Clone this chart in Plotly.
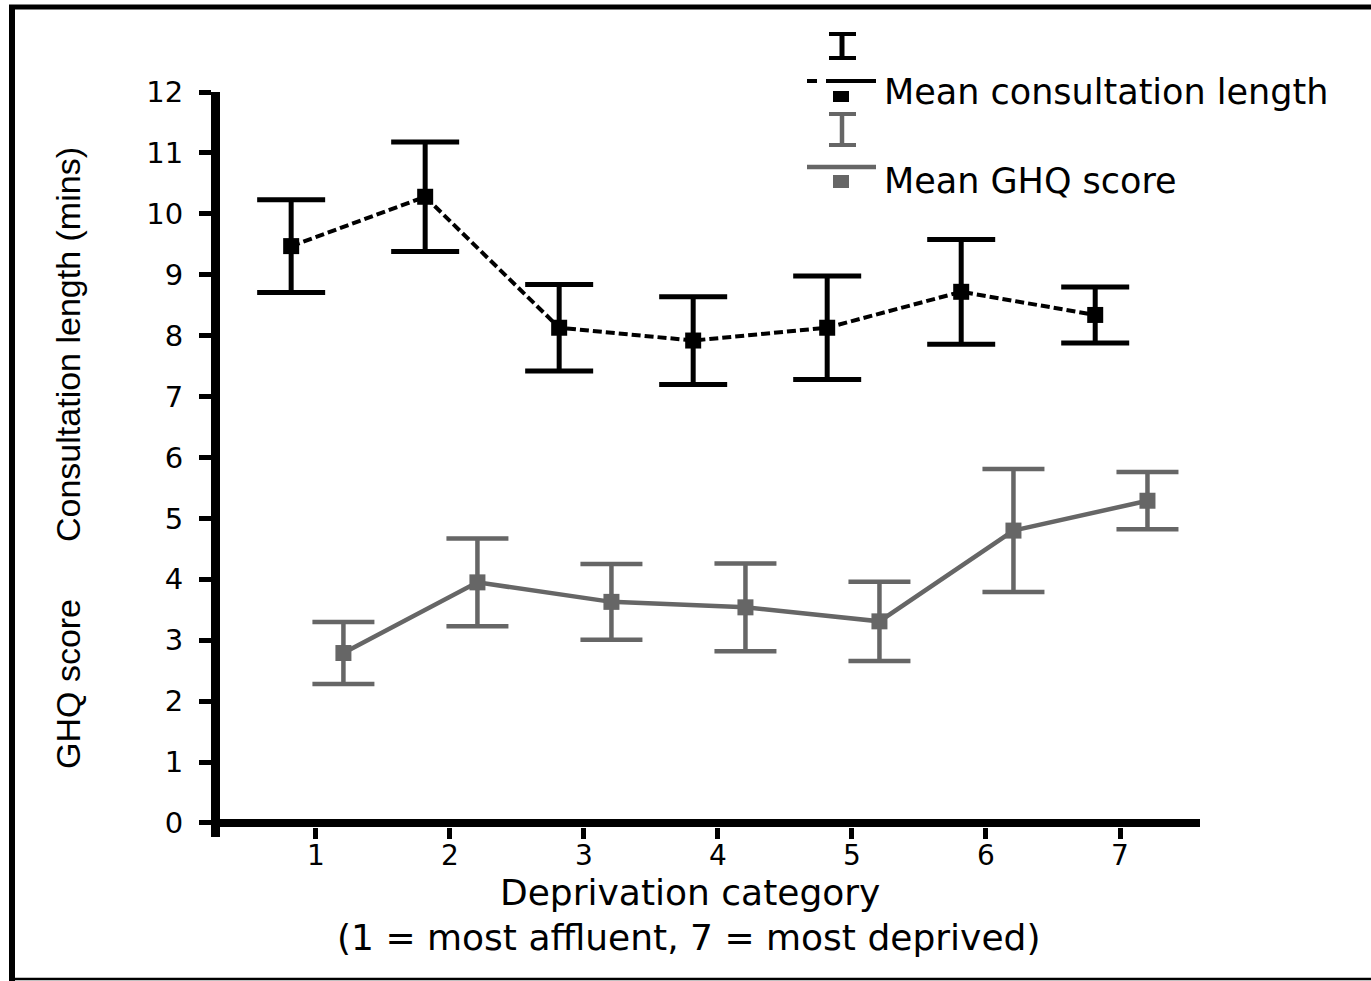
import plotly.graph_objects as go

# Deprivation categories (1 = most affluent, 7 = most deprived)
categories = [1, 2, 3, 4, 5, 6, 7]
tick_labels = ["1", "2", "3", "4", "5", "6", "7"]

# Mean consultation length (mins) with error bar half-widths
consult_mean = [9.47, 10.28, 8.13, 7.92, 8.13, 8.72, 8.34]
consult_err = [0.76, 0.90, 0.71, 0.72, 0.85, 0.86, 0.46]

# Mean GHQ score with error bar half-widths
ghq_mean = [2.79, 3.95, 3.63, 3.54, 3.31, 4.80, 5.29]
ghq_err = [0.51, 0.72, 0.62, 0.72, 0.65, 1.01, 0.47]

y_ticks = list(range(0, 13))

GREY = "#666666"
BLACK = "#000000"
TEXT_FONT = "DejaVu Sans"
TITLE_FONT = "Liberation Sans"

# plot-area geometry (pixels)
W, H = 1371, 981
L, R, T, B = 220, 1200, 92, 827

# the two series are dodged either side of each category
consult_x = [c - 0.185 for c in categories]
ghq_x = [c + 0.205 for c in categories]


def px(x):
    return (x - L) / (R - L)


def py(y):
    return (B - y) / (B - T)


fig = go.Figure()

fig.add_trace(go.Scatter(
    x=consult_x, y=consult_mean, mode="lines+markers",
    name="Mean consultation length",
    line=dict(color=BLACK, width=4, dash="9px,4px"),
    marker=dict(symbol="square", size=16, color=BLACK),
    error_y=dict(type="data", array=consult_err, visible=True,
                 color=BLACK, thickness=5, width=34),
))

fig.add_trace(go.Scatter(
    x=ghq_x, y=ghq_mean, mode="lines+markers",
    name="Mean GHQ score",
    line=dict(color=GREY, width=4.5),
    marker=dict(symbol="square", size=16, color=GREY),
    error_y=dict(type="data", array=ghq_err, visible=True,
                 color=GREY, thickness=4.5, width=31),
))

shapes = []


def seg(x0, y0, x1, y1, color, width):
    shapes.append(dict(type="line", xref="paper", yref="paper",
                       x0=px(x0), y0=py(y0), x1=px(x1), y1=py(y1),
                       line=dict(color=color, width=width)))


def box(x0, y0, x1, y1, color):
    shapes.append(dict(type="rect", xref="paper", yref="paper",
                       x0=px(x0), y0=py(y0), x1=px(x1), y1=py(y1),
                       fillcolor=color, line=dict(width=0)))


# outer frame
seg(12, 7, 12, 981, BLACK, 6)
seg(9, 7, W, 7, BLACK, 5)
seg(9, 979, W, 979, BLACK, 2.5)

# y-axis stub below the x axis
seg(215.5, 823, 215.5, 837, BLACK, 9)

# legend: consultation length
seg(842, 34, 842, 58, BLACK, 5)
seg(829, 34, 856, 34, BLACK, 4)
seg(829, 58, 856, 58, BLACK, 4)
seg(807, 81, 817, 81, BLACK, 4)
seg(826, 81, 876, 81, BLACK, 4)
box(833, 91, 849, 102, BLACK)

# legend: GHQ score
seg(842, 114, 842, 145, GREY, 4.5)
seg(829, 114, 856, 114, GREY, 4)
seg(829, 145, 856, 145, GREY, 4)
seg(807, 167, 876, 167, GREY, 4.5)
box(833, 175, 849, 188, GREY)

annotations = [
    dict(text="Mean consultation length", x=px(882), y=py(92),
         xanchor="left", yanchor="middle",
         font=dict(family=TEXT_FONT, size=35, color=BLACK)),
    dict(text="Mean GHQ score", x=px(882), y=py(181),
         xanchor="left", yanchor="middle",
         font=dict(family=TEXT_FONT, size=35, color=BLACK)),
    dict(text="Consultation length (mins)", x=px(68), y=py(345),
         xanchor="center", yanchor="middle", textangle=-90,
         font=dict(family=TITLE_FONT, size=34, color=BLACK)),
    dict(text="GHQ score", x=px(68), y=py(684),
         xanchor="center", yanchor="middle", textangle=-90,
         font=dict(family=TITLE_FONT, size=34, color=BLACK)),
    dict(text="Deprivation category", x=px(690), y=py(892),
         xanchor="center", yanchor="middle",
         font=dict(family=TEXT_FONT, size=36, color=BLACK)),
    dict(text="(1 = most affluent, 7 = most deprived)", x=px(688), y=py(937),
         xanchor="center", yanchor="middle",
         font=dict(family=TEXT_FONT, size=36, color=BLACK)),
]
for a in annotations:
    a.update(xref="paper", yref="paper", showarrow=False)

fig.update_layout(
    width=W, height=H,
    margin=dict(l=L, r=W - R, t=T, b=H - B, pad=0),
    paper_bgcolor="white", plot_bgcolor="white",
    showlegend=False,
    shapes=shapes,
    annotations=annotations,
    xaxis=dict(
        range=[0.284, 7.597], tickmode="array",
        tickvals=categories, ticktext=tick_labels,
        ticks="outside", ticklen=11, tickwidth=4.5, tickcolor=BLACK,
        showgrid=False, zeroline=False, showline=False,
        tickfont=dict(family=TEXT_FONT, size=28, color=BLACK),
        ticklabelstandoff=-8,
    ),
    yaxis=dict(
        range=[-0.066, 12], tickmode="array", tickvals=y_ticks,
        ticks="outside", ticklen=12, tickwidth=4.5, tickcolor=BLACK,
        showline=True, linewidth=9, linecolor=BLACK,
        zeroline=True, zerolinewidth=8, zerolinecolor=BLACK,
        showgrid=False,
        tickfont=dict(family=TEXT_FONT, size=29, color=BLACK),
        ticklabelstandoff=10,
    ),
)

fig.write_html("out.html")
